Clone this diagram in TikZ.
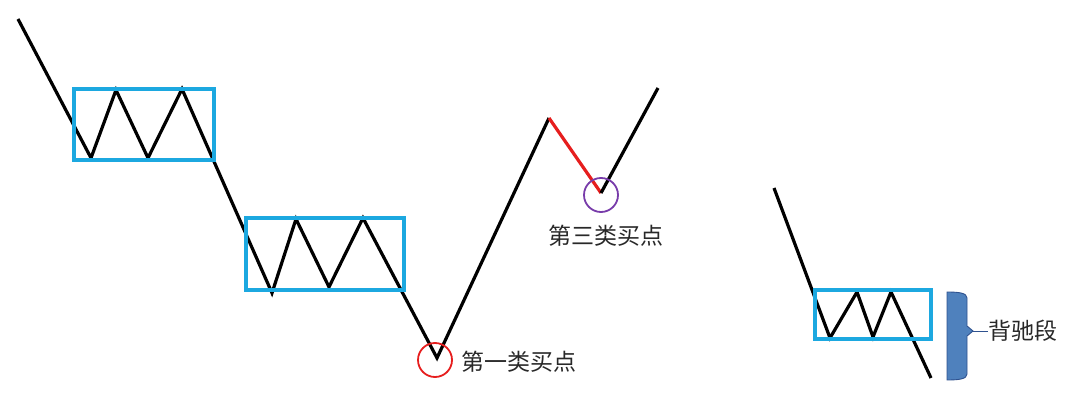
\documentclass[tikz,border=0pt]{standalone}
\usepackage{fontspec}
\newfontfamily\cjk{Noto Sans CJK SC}
\usetikzlibrary{calc}

\definecolor{boxblue}{RGB}{28,168,224}
\definecolor{buyred}{RGB}{230,30,30}
\definecolor{buypurple}{RGB}{120,60,170}
\definecolor{bracefill}{RGB}{79,129,189}
\definecolor{braceline}{RGB}{47,82,143}
\definecolor{labelgray}{RGB}{40,40,40}

\begin{document}
\begin{tikzpicture}[x=1pt,y=-1pt]
		\useasboundingbox (0,0) rectangle (1085,403);
		% main trend, left
		\coordinate (s0) at (18,19);
		\coordinate (t1) at (91,158);
		\coordinate (p1) at (116,90);
		\coordinate (t2) at (148,158);
		\coordinate (p2) at (182,89);
		\coordinate (t3) at (272,293);
		\coordinate (p3) at (296,219);
		\coordinate (t4) at (329,287);
		\coordinate (p4) at (363,218);
		\coordinate (b1) at (437,358);
		\coordinate (h1) at (549,118);
		\coordinate (b3) at (601,193);
		\coordinate (e0) at (658,88);
		\draw [line width=3.2pt] (s0) -- (t1) -- (p1) -- (t2) -- (p2) -- (t3) -- (p3) -- (t4) -- (p4) -- (b1) -- (h1);
		\draw [line width=3.2pt,buyred] (h1) -- (b3);
		\draw [line width=3.2pt] (b3) -- (e0);
		\draw [line width=3.2pt,boxblue] (74,89) rectangle (214,160);
		\draw [line width=3.2pt,boxblue] (246,218) rectangle (404,290);
		\draw [line width=1.8pt,buyred] (435,360) circle (17);
		\draw [line width=1.8pt,buypurple] (601,195) circle (17);
		\node [right,inner sep=0pt,font=\cjk\fontsize{23pt}{23pt}\selectfont,text=labelgray] (l1) at (461,362) {第一类买点};
		\node [right,inner sep=0pt,font=\cjk\fontsize{23pt}{23pt}\selectfont,text=labelgray] (l3) at (548,236) {第三类买点};
		% divergence segment, right
		\coordinate (r0) at (774,188);
		\coordinate (rt1) at (830,338);
		\coordinate (rp1) at (857,292);
		\coordinate (rt2) at (873,337);
		\coordinate (rp2) at (891,292);
		\coordinate (r1) at (931,378);
		\draw [line width=3.2pt] (r0) -- (rt1) -- (rp1) -- (rt2) -- (rp2) -- (r1);
		\draw [line width=3.2pt,boxblue] (815,290) rectangle (931,339);
		\coordinate (tip) at (973,331);
		\draw [fill=bracefill,draw=braceline,line width=0.9pt] (947,292) .. controls (959,292) and (967,293) .. (967,298) -- (967,326) -- (tip) -- (967,336) -- (967,374) .. controls (967,379) and (959,380) .. (947,380) -- cycle;
		\node [right,inner sep=0pt,font=\cjk\fontsize{23pt}{23pt}\selectfont,text=labelgray] (lb) at (988,331) {背驰段};
		\draw [line width=0.9pt,braceline] (tip) -- (lb.west);
	\end{tikzpicture}
\end{document}
